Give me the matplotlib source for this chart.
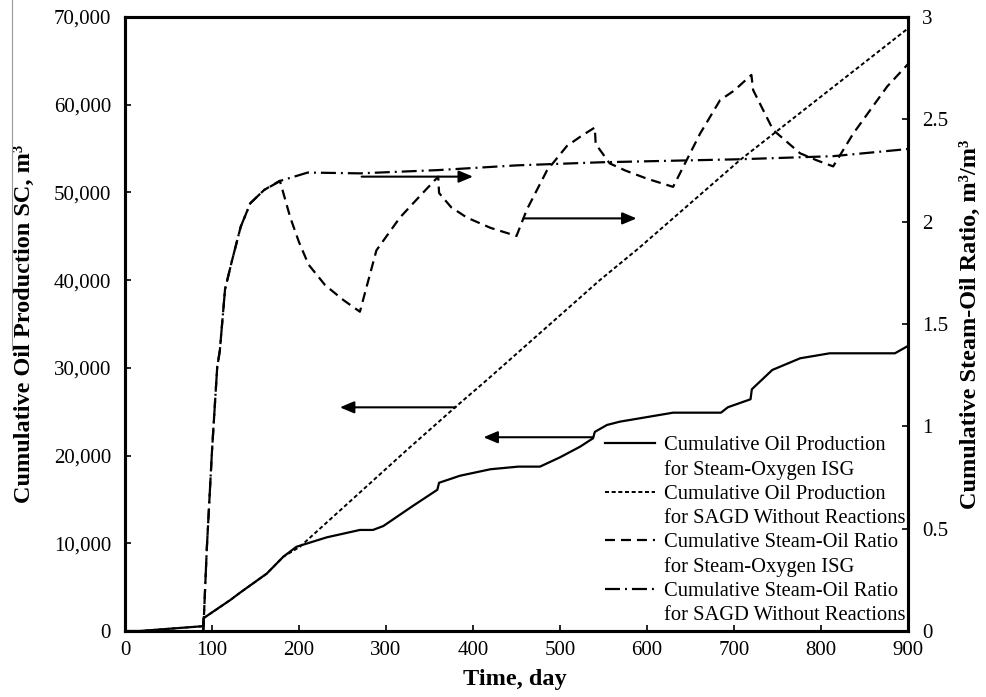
import matplotlib
matplotlib.use("Agg")
import matplotlib.pyplot as plt
from matplotlib.lines import Line2D
from matplotlib.ticker import FuncFormatter

plt.rcParams['font.family'] = ['Liberation Serif', 'DejaVu Serif']
plt.rcParams['lines.scale_dashes'] = False

# ---------------- data ----------------
isg_oil_t = [0, 17, 90, 90.1, 121, 132, 163, 182, 197, 232, 270, 285, 297, 330, 359, 361,
             385, 420, 452, 477, 500, 523, 538, 540, 554, 569, 630, 685, 693, 719, 720.5,
             744, 776, 810, 885, 900]
isg_oil = [0, 0, 550, 1450, 3530, 4350, 6550, 8470, 9600, 10680, 11520, 11520, 11970, 14200,
           16100, 16900, 17700, 18440, 18740, 18740, 19800, 21010, 21970, 22700, 23490, 23870,
           24890, 24890, 25510, 26420, 27560, 29760, 31090, 31660, 31660, 32500]

sagd_oil_t = [0, 17, 90, 90.1, 121, 132, 163, 182, 201, 324, 380, 416, 546, 590, 707, 900]
sagd_oil = [0, 0, 550, 1450, 3530, 4350, 6550, 8470, 9600, 20640, 25550, 28620, 40020,
            43600, 53700, 68700]

sor_isg_t = [90, 94, 100, 106, 109, 115, 123, 133, 144, 160, 178, 190, 200, 211, 230, 251,
             270, 289, 316, 340, 360, 361, 375, 393, 420, 450, 462, 485, 508, 525, 540, 541,
             557, 575, 600, 630, 661, 684, 700, 720, 722, 745, 776, 795, 814, 837, 876, 900]
sor_isg = [0, 0.40, 0.88, 1.29, 1.37, 1.67, 1.81, 1.975, 2.09, 2.155, 2.20, 2.02, 1.90, 1.79,
           1.69, 1.617, 1.56, 1.86, 2.02, 2.13, 2.22, 2.14, 2.07, 2.02, 1.97, 1.93, 2.06, 2.25,
           2.37, 2.42, 2.46, 2.38, 2.285, 2.25, 2.21, 2.17, 2.43, 2.594, 2.64, 2.717, 2.643,
           2.448, 2.334, 2.30, 2.27, 2.43, 2.66, 2.77]

sor_sagd_t = [90, 94, 100, 106, 109, 115, 123, 133, 144, 160, 179, 210, 270, 360, 450, 546,
              707, 814, 900]
sor_sagd = [0, 0.40, 0.88, 1.29, 1.37, 1.67, 1.81, 1.975, 2.09, 2.155, 2.20, 2.24, 2.236,
            2.252, 2.275, 2.29, 2.305, 2.32, 2.355]

labels = ["Cumulative Oil Production", "for Steam-Oxygen ISG",
          "Cumulative Oil Production", "for SAGD Without Reactions",
          "Cumulative Steam-Oil Ratio", "for Steam-Oxygen ISG",
          "Cumulative Steam-Oil Ratio", "for SAGD Without Reactions"]

# arrows: (tail_t, tail_y, tip_t, tip_y)
arrows_left_axis = [(380, 25500, 247, 25500), (538, 22090, 412, 22090)]
arrows_right_axis = [(272, 2.22, 400, 2.22), (458, 2.016, 588, 2.016)]

x_ticks = list(range(0, 901, 100))
y_ticks = list(range(0, 70001, 10000))
y2_ticks = [0, 0.5, 1, 1.5, 2, 2.5, 3]

# ---------------- figure ----------------
W, H = 986, 697
fig = plt.figure(figsize=(W / 100, H / 100), dpi=100)
ax = fig.add_axes([125 / W, (H - 631) / H, (908 - 125) / W, (631 - 17) / H])
ax2 = ax.twinx()

lw = 1.6
s_solid = dict(color='black', lw=lw, linestyle='-')
s_dot = dict(color='black', lw=1.4, dashes=(2.9, 1.9))
s_dash = dict(color='black', lw=lw, dashes=(7.2, 4.3))
s_dashdot = dict(color='black', lw=lw, dashes=(10.8, 3.6, 1.4, 3.6))

ax.plot(sagd_oil_t, sagd_oil, **s_dot)
ax.plot(isg_oil_t, isg_oil, **s_solid)
ax2.plot(sor_isg_t, sor_isg, **s_dash)
ax2.plot(sor_sagd_t, sor_sagd, **s_dashdot)

ax.set_xlim(0, 900)
ax.set_ylim(0, 70000)
ax2.set_ylim(0, 3)
ax.set_xticks(x_ticks)
ax.set_yticks(y_ticks)
ax2.set_yticks(y2_ticks)
ax.yaxis.set_major_formatter(FuncFormatter(lambda v, p: f"{v:,.0f}"))
ax2.yaxis.set_major_formatter(FuncFormatter(lambda v, p: f"{v:g}"))

for a in (ax, ax2):
    for sp in a.spines.values():
        sp.set_linewidth(2.2)
    a.tick_params(direction='in', length=4, width=1.2, labelsize=15, pad=9)
ax.tick_params(axis='x', pad=7)
ax2.tick_params(axis='y', pad=10)
ax.tick_params(axis='y', pad=10)

hp = dict(arrowstyle='-|>,head_length=0.85,head_width=0.36', color='black', lw=1.5,
          shrinkA=0, shrinkB=0, mutation_scale=10)
for (x0, y0, x1, y1) in arrows_left_axis:
    ax.annotate('', xy=(x1, y1), xytext=(x0, y0), arrowprops=hp)
for (x0, y0, x1, y1) in arrows_right_axis:
    ax2.annotate('', xy=(x1, y1), xytext=(x0, y0), arrowprops=hp)

ax.set_xlabel("Time, day", fontsize=17.5, fontweight='bold')
ax.xaxis.set_label_coords(0.498, -0.0624)
ax.set_ylabel("Cumulative Oil Production SC, m³", fontsize=17.5, fontweight='bold')
ax.yaxis.set_label_coords(-0.1149, 0.5)
ax2.set_ylabel("Cumulative Steam-Oil Ratio, m³/m³", fontsize=17.5, fontweight='bold',
               rotation=90)
ax2.yaxis.set_label_coords(1.0668, 0.5)

blank = Line2D([], [], linestyle='none')
handles = [Line2D([], [], **s_solid), blank,
           Line2D([], [], **s_dot), blank,
           Line2D([], [], **s_dash), blank,
           Line2D([], [], **s_dashdot), blank]
leg = ax2.legend(handles, labels, loc='lower right', bbox_to_anchor=(0.9962, 0.01),
                 frameon=False, fontsize=14.75, handlelength=2.45, handletextpad=0.4,
                 labelspacing=0.23, borderpad=0, borderaxespad=0)

# scan artifact line at left edge
fig.add_artist(Line2D([12 / W, 12 / W], [1, (H - 350) / H], transform=fig.transFigure,
                      color='0.6', lw=0.8))

fig.savefig("out.png", dpi=100)
